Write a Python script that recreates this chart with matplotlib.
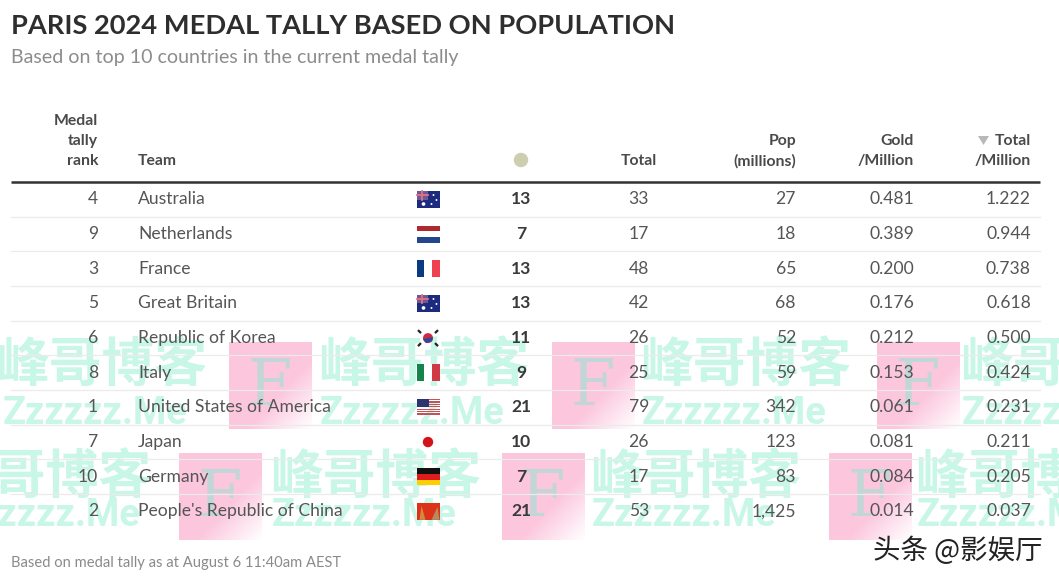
import numpy as np
import matplotlib
matplotlib.use("Agg")
import matplotlib.pyplot as plt
from matplotlib.patches import Rectangle, Circle, Polygon

plt.rcParams['font.family'] = ['Lato', 'Noto Sans CJK SC', 'DejaVu Sans']

# table data
ranks = [4, 9, 3, 5, 6, 8, 1, 7, 10, 2]
teams = ["Australia", "Netherlands", "France", "Great Britain", "Republic of Korea",
         "Italy", "United States of America", "Japan", "Germany", "People's Republic of China"]
flags = ["au", "nl", "fr", "au", "kr", "it", "us", "jp", "de", "cn"]
gold = [13, 7, 13, 13, 11, 9, 21, 10, 7, 21]
total = [33, 17, 48, 42, 26, 25, 79, 26, 17, 53]
pop = ["27", "18", "65", "68", "52", "59", "342", "123", "83", "1,425"]
gold_m = ["0.481", "0.389", "0.200", "0.176", "0.212", "0.153", "0.061", "0.081", "0.084", "0.014"]
total_m = ["1.222", "0.944", "0.738", "0.618", "0.500", "0.424", "0.231", "0.211", "0.205", "0.037"]

title = "PARIS 2024 MEDAL TALLY BASED ON POPULATION"
subtitle = "Based on top 10 countries in the current medal tally"
footnote = "Based on medal tally as at August 6 11:40am AEST"

# layout, pixels
row0 = 199.5
row_h = 34.65
x_rank, x_team, x_flag, x_gold, x_total, x_pop, x_gm, x_tm = 98, 138, 428, 521, 657, 796, 914, 1031
body = "#555555"
mint = "#c8f7e8"

fig = plt.figure(figsize=(10.59, 5.83), dpi=100)
ax = fig.add_axes([0, 0, 1, 1])
ax.set_xlim(0, 1059)
ax.set_ylim(583, 0)
ax.axis("off")


def pink_square(x, y):
    # pink that fades out towards the lower right corner
    n = 60
    u, v = np.meshgrid(np.linspace(0, 1, n), np.linspace(0, 1, n))
    img = np.ones((n, n, 4))
    img[..., 0] = 0.99
    img[..., 1] = 0.78
    img[..., 2] = 0.87
    img[..., 3] = np.where(u + v > 1.2, np.clip((2.0 - (u + v)) / 0.8, 0, 1), 1)
    ax.imshow(img, extent=(x, x + 83, y + 87, y), zorder=1, aspect="auto", interpolation="bilinear")
    ax.text(x + 41, y + 45, "F", fontsize=46, family="DejaVu Serif", color="#c2d6d8",
            ha="center", va="center", zorder=1.5)


def watermark_cn(xs, y):
    for x in xs:
        ax.text(x, y, "峰哥博客", fontsize=38, fontweight="bold", family="Noto Sans CJK SC",
                color=mint, ha="left", va="center", zorder=1)


def watermark_en(xs, y):
    for x in xs:
        ax.text(x, y, "Zzzzzz.Me", fontsize=27.4, fontweight="bold", family="Roboto",
                color=mint, ha="left", va="center", zorder=1)


def draw_flag(code, cx, cy):
    x0, y0, w, h = cx - 11.5, cy - 8.5, 23, 17
    if code == "au":
        ax.add_patch(Rectangle((x0, y0), w, h, fc="#1c2a80", zorder=3))
        ax.add_patch(Rectangle((x0, y0), w / 2, h / 2, fc="#6a5a98", zorder=3))
        ax.plot([x0 + w / 4] * 2, [y0, y0 + h / 2], color="#e87080", lw=1.3, zorder=3)
        ax.plot([x0, x0 + w / 2], [y0 + h / 4] * 2, color="#e87080", lw=1.3, zorder=3)
        ax.scatter([x0 + 7, x0 + 17, x0 + 20, x0 + 15], [y0 + 13, y0 + 4, y0 + 9, y0 + 13],
                   s=[7, 2, 2, 2], color="white", zorder=4, lw=0)
    elif code == "nl":
        for i, c in enumerate(["#ae2a30", "#ffffff", "#23468c"]):
            ax.add_patch(Rectangle((x0, y0 + i * h / 3), w, h / 3, fc=c, zorder=3))
    elif code in ("fr", "it"):
        cols = ["#0a3a82", "#ffffff", "#ef4150"] if code == "fr" else ["#14854a", "#ffffff", "#cf3a44"]
        for i, c in enumerate(cols):
            ax.add_patch(Rectangle((x0 + i * w / 3, y0), w / 3, h, fc=c, zorder=3))
    elif code == "de":
        for i, c in enumerate(["#111111", "#dd1c1c", "#ffce00"]):
            ax.add_patch(Rectangle((x0, y0 + i * h / 3), w, h / 3, fc=c, zorder=3))
    elif code == "us":
        for i in range(7):
            ax.add_patch(Rectangle((x0, y0 + i * h / 7), w, h / 14, fc="#c8505a", zorder=3))
        ax.add_patch(Rectangle((x0, y0), w * 0.55, h * 0.5, fc="#2c3470", zorder=3))
    elif code == "jp":
        ax.add_patch(Circle((cx, cy), 5.2, fc="#d4121a", zorder=3))
    elif code == "kr":
        ax.add_patch(Circle((cx, cy), 5, fc="#cf2a44", zorder=3))
        ax.add_patch(Polygon([(cx - 5, cy + 1), (cx + 5, cy - 1), (cx + 4, cy + 3), (cx - 2, cy + 5)],
                             fc="#2a4a9a", zorder=3))
        for dx, dy in [(-8.5, -6.5), (8.5, -6.5), (-8.5, 6.5), (8.5, 6.5)]:
            s = np.sign(dx * dy)
            ax.plot([cx + dx - 1.5 * s, cx + dx + 1.5 * s], [cy + dy - 1.5, cy + dy + 1.5],
                    color="#222222", lw=1.6, zorder=3, solid_capstyle="butt")
    elif code == "cn":
        ax.add_patch(Rectangle((x0, y0), w, h, fc="#dc3218", zorder=3))
        ax.add_patch(Polygon([(x0 + 3, y0 + h), (x0 + 5, y0 + 3), (x0 + 9, y0 + h)], fc="#d08a40", zorder=3))
        ax.add_patch(Polygon([(x0 + 15, y0 + h), (x0 + w - 2, y0 + 4), (x0 + w, y0 + h)], fc="#b88a60", zorder=3))


# watermark layer
for x, y in [(229, 342), (552, 342), (877, 342), (179, 453), (502, 453), (829, 453)]:
    pink_square(x, y)
watermark_cn([-4, 318, 640, 960], 365)
watermark_en([3, 320, 642, 962], 413)
watermark_cn([-60, 270, 590, 915], 478)
watermark_en([-44, 272, 592, 917], 516)

# titles
ax.text(11, 26, title, fontsize=19.6, fontweight="bold", color="#2e2e2e", ha="left", va="center", zorder=5)
ax.text(11, 58, subtitle, fontsize=14.1, color="#8c8c8c", ha="left", va="center", zorder=5)

# header
hdr = dict(fontsize=11.3, fontweight="bold", color="#4a4a4a", va="center", zorder=5)
ax.text(x_rank, 121, "Medal", ha="right", **hdr)
ax.text(x_rank, 141, "tally", ha="right", **hdr)
ax.text(x_rank, 161, "rank", ha="right", **hdr)
ax.text(x_team, 161, "Team", ha="left", **hdr)
ax.add_patch(Circle((x_gold, 160), 7.2, fc="#cfcdaf", ec="none", zorder=5))
ax.text(x_total, 161, "Total", ha="right", **hdr)
ax.text(x_pop, 141, "Pop", ha="right", **hdr)
ax.text(x_pop, 161, "(millions)", ha="right", **hdr)
ax.text(x_gm, 141, "Gold", ha="right", **hdr)
ax.text(x_gm, 161, "/Million", ha="right", **hdr)
ax.text(x_tm, 141, "Total", ha="right", **hdr)
ax.text(x_tm, 161, "/Million", ha="right", **hdr)
ax.add_patch(Polygon([(978, 136), (989, 136), (983.5, 145)], fc="#b8b8b8", zorder=5))

ax.plot([11, 1040], [182, 182], color="#333333", lw=1.8, zorder=5, solid_capstyle="butt")

# rows
cell = dict(fontsize=12.6, color=body, va="center", zorder=5)
for i in range(len(teams)):
    y = row0 + i * row_h
    if i < len(teams) - 1:
        ax.plot([11, 1040], [y + row_h / 2] * 2, color="#ebebeb", lw=0.9, zorder=2)
    ax.text(x_rank, y, str(ranks[i]), ha="right", **cell)
    ax.text(x_team, y, teams[i], ha="left", **cell)
    draw_flag(flags[i], x_flag, y)
    ax.text(x_gold, y, str(gold[i]), ha="center", fontsize=12.6, fontweight="bold", color="#3a3a3a",
            va="center", zorder=5)
    ax.text(x_total - 8, y, str(total[i]), ha="right", **cell)
    ax.text(x_pop, y, pop[i], ha="right", **cell)
    ax.text(x_gm, y, gold_m[i], ha="right", **cell)
    ax.text(x_tm, y, total_m[i], ha="right", **cell)

ax.text(11, 563, footnote, fontsize=10.6, color="#8a8a8a", ha="left", va="center", zorder=5)
ax.text(873, 551, "头条 @影娱厅", fontsize=19.8, color="#222222", ha="left", va="center", zorder=6,
        family=["Noto Sans CJK SC", "DejaVu Sans"])

fig.savefig("out.png", dpi=100)
